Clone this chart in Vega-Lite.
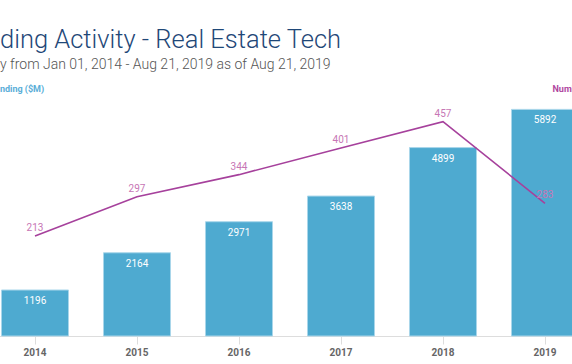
{
  "$schema": "https://vega.github.io/schema/vega-lite/v6.json",
  "width": 572,
  "height": 250,
  "autosize": "none",
  "padding": {"left": 0, "top": 86, "right": 0, "bottom": 28},
  "background": "white",
  "config": {"view": {"stroke": null}},
  "title": {
    "text": "ding Activity - Real Estate Tech",
    "subtitle": "y from Jan 01, 2014 - Aug 21, 2019 as of Aug 21, 2019",
    "anchor": "start",
    "frame": "group",
    "font": "Roboto",
    "fontSize": 25.5,
    "fontWeight": 300,
    "color": "#1f4878",
    "subtitleFont": "Roboto",
    "subtitleFontSize": 14,
    "subtitleFontWeight": 300,
    "subtitleColor": "#555555",
    "subtitlePadding": 5,
    "offset": 12
  },
  "data": {
    "values": [
      {"year": "2014", "funding": 1196, "deals": 213},
      {"year": "2015", "funding": 2164, "deals": 297},
      {"year": "2016", "funding": 2971, "deals": 344},
      {"year": "2017", "funding": 3638, "deals": 401},
      {"year": "2018", "funding": 4899, "deals": 457},
      {"year": "2019", "funding": 5892, "deals": 283}
    ]
  },
  "encoding": {
    "x": {
      "field": "year",
      "type": "ordinal",
      "scale": {"range": [-16, 596], "paddingInner": 0.343, "paddingOuter": 0.1715},
      "axis": {
        "title": null,
        "labelAngle": 0,
        "domainColor": "#dddddd",
        "tickColor": "#dddddd",
        "tickSize": 8,
        "labelFont": "Roboto",
        "labelFontWeight": "bold",
        "labelFontSize": 10,
        "labelColor": "#666666",
        "labelPadding": 3
      }
    }
  },
  "layer": [
    {
      "mark": {"type": "bar", "fill": "#4eaad0", "stroke": "#a9d6ea", "strokeWidth": 1},
      "encoding": {
        "y": {
          "field": "funding",
          "type": "quantitative",
          "scale": {"domain": [0, 6500], "nice": false},
          "axis": {
            "orient": "left",
            "title": "Funding ($M)",
            "titleAngle": 0,
            "titleX": -10.5,
            "titleY": 2,
            "titleAlign": "left",
            "titleBaseline": "middle",
            "titleFont": "Roboto",
            "titleFontSize": 9,
            "titleFontWeight": "bold",
            "titleColor": "#5aaed8",
            "labels": false,
            "ticks": false,
            "domain": false,
            "grid": false
          }
        }
      }
    },
    {
      "mark": {"type": "text", "color": "white", "baseline": "middle", "dy": 11, "font": "Roboto", "fontSize": 10},
      "encoding": {
        "y": {"field": "funding", "type": "quantitative", "scale": {"domain": [0, 6500], "nice": false}, "axis": null},
        "text": {"field": "funding", "type": "quantitative"}
      }
    },
    {
      "mark": {"type": "line", "color": "#a6419c", "strokeWidth": 1.6},
      "encoding": {
        "y": {
          "field": "deals",
          "type": "quantitative",
          "scale": {"domain": [0, 533], "nice": false},
          "axis": {
            "orient": "right",
            "title": "Number of Deals",
            "titleAngle": 0,
            "titleX": -20,
            "titleY": 2,
            "titleAlign": "left",
            "titleBaseline": "middle",
            "titleFont": "Roboto",
            "titleFontSize": 9,
            "titleFontWeight": "bold",
            "titleColor": "#b0479f",
            "labels": false,
            "ticks": false,
            "domain": false,
            "grid": false
          }
        }
      }
    },
    {
      "mark": {"type": "text", "color": "#c776b5", "baseline": "middle", "dy": -8, "font": "Roboto", "fontSize": 10},
      "encoding": {
        "y": {"field": "deals", "type": "quantitative", "scale": {"domain": [0, 533], "nice": false}, "axis": null},
        "text": {"field": "deals", "type": "quantitative"}
      }
    }
  ],
  "resolve": {"scale": {"y": "independent"}}
}
